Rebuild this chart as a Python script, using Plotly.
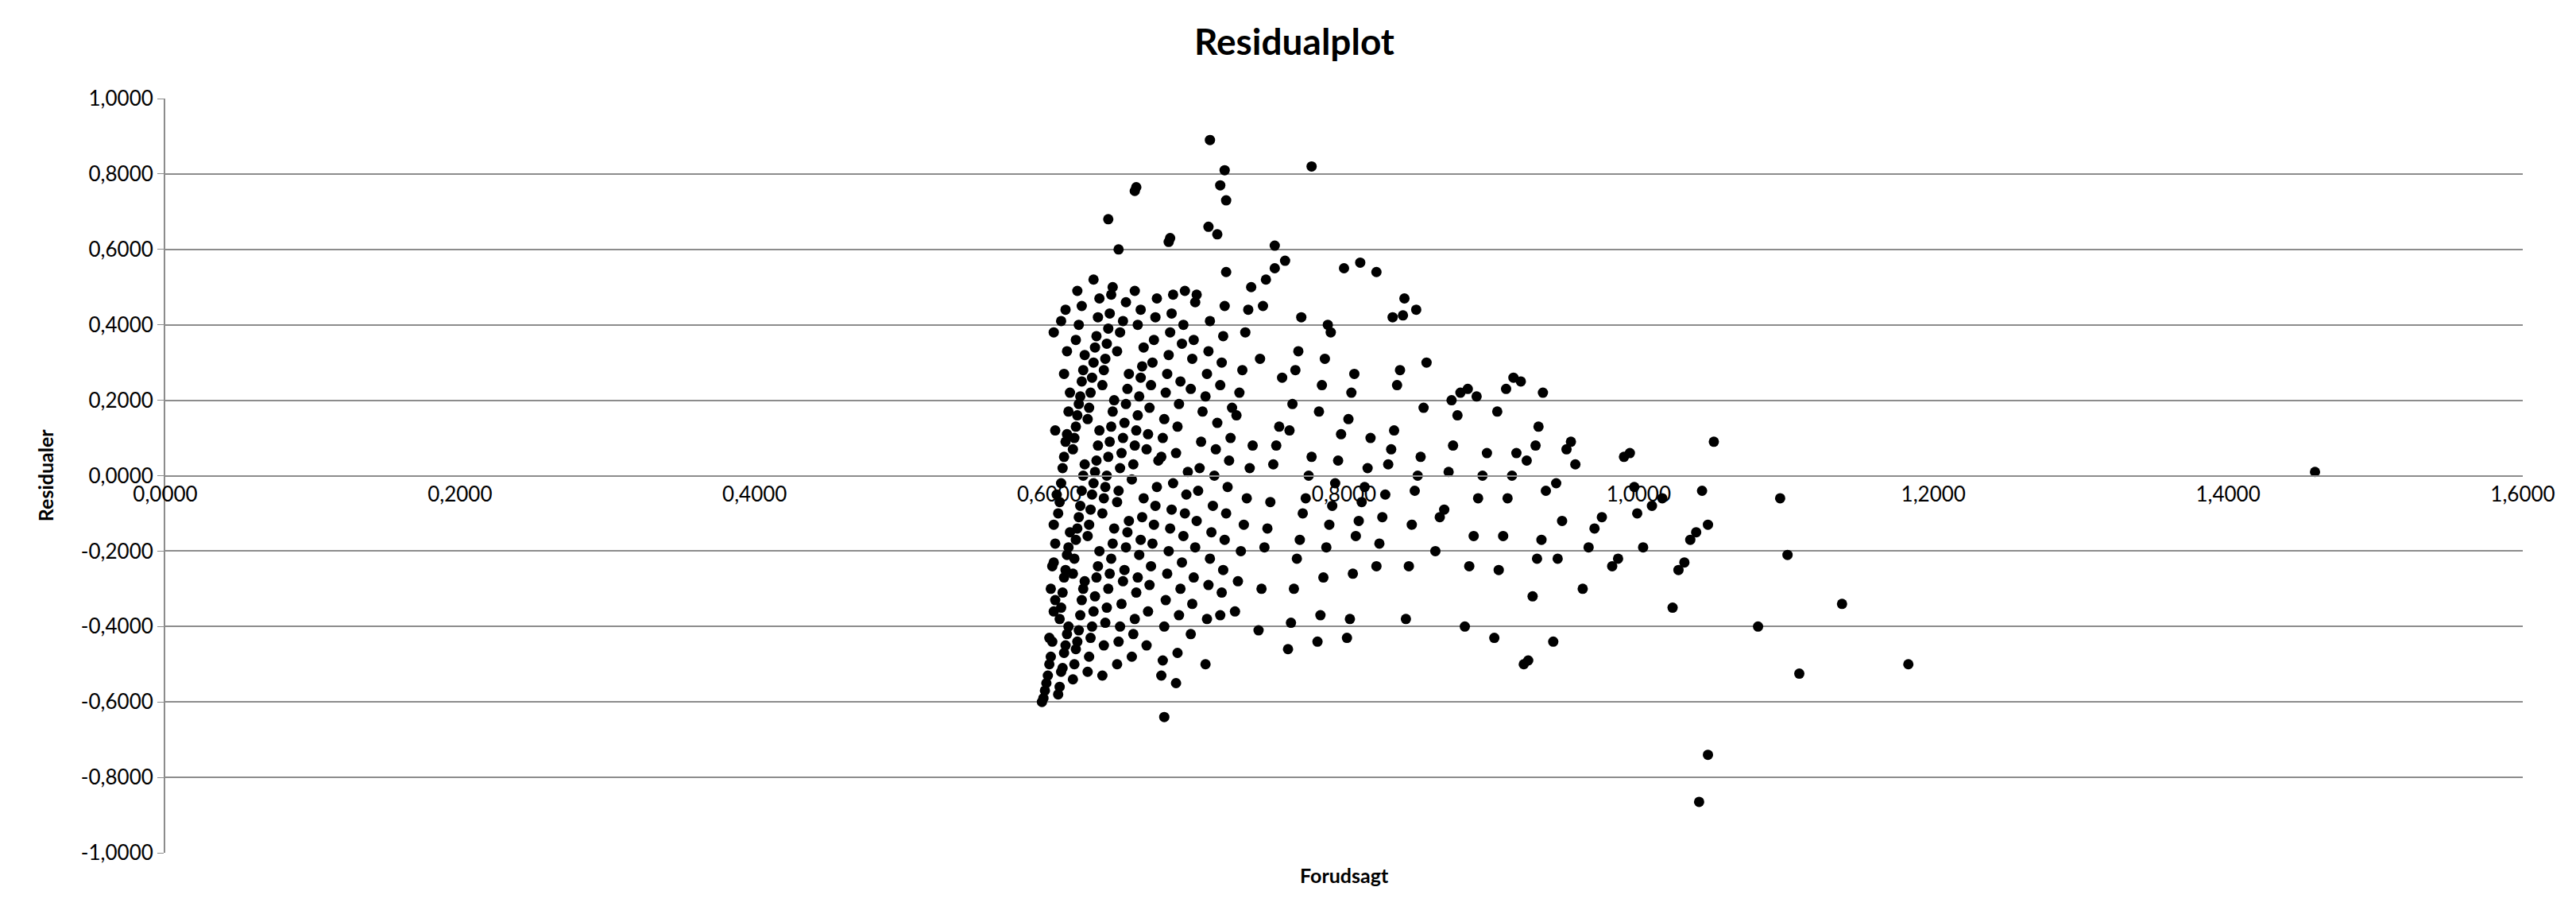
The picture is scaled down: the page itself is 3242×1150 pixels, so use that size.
import plotly.graph_objects as go

# Predicted (Forudsagt) and residual values, column by column
pred = [
 0.595,0.596,0.597,0.598,0.599,0.600,0.601,0.602,0.600,0.603,0.604,0.601,0.602,0.603,0.604,0.603,0.605,0.604,0.603,
 0.606,0.607,0.608,0.609,0.610,0.611,0.612,0.613,0.607,0.608,0.609,0.610,0.611,0.612,0.613,0.614,0.606,0.607,0.608,0.609,0.610,0.611,0.612,0.613,0.614,0.610,0.612,0.608,0.611,
 0.616,0.617,0.618,0.619,0.620,0.621,0.622,0.623,0.624,0.616,0.617,0.618,0.619,0.620,0.621,0.622,0.623,0.624,0.616,0.617,0.618,0.619,0.620,0.621,0.622,0.623,0.624,0.618,0.620,0.622,0.619,
 0.626,0.627,0.628,0.629,0.630,0.631,0.632,0.633,0.634,0.626,0.627,0.628,0.629,0.630,0.631,0.632,0.633,0.634,0.626,0.627,0.628,0.629,0.630,0.631,0.632,0.633,0.634,0.630,
 0.636,0.637,0.638,0.639,0.640,0.641,0.642,0.643,0.644,0.636,0.637,0.638,0.639,0.640,0.641,0.642,0.643,0.644,0.636,0.637,0.638,0.639,0.640,0.641,0.642,0.643,0.640,
 0.646,0.647,0.648,0.649,0.650,0.651,0.652,0.653,0.654,0.646,0.647,0.648,0.649,0.650,0.651,0.652,0.653,0.654,0.646,0.648,0.650,0.652,0.647,
 0.656,0.657,0.658,0.659,0.660,0.661,0.662,0.663,0.664,0.656,0.657,0.658,0.659,0.660,0.661,0.662,0.663,0.664,0.660,0.662,0.658,0.658,0.659,
 0.666,0.667,0.668,0.669,0.670,0.671,0.672,0.673,0.674,0.666,0.667,0.668,0.669,0.670,0.671,0.672,0.673,
 0.678,0.676,0.677,0.678,0.679,0.680,0.681,0.682,0.683,0.684,0.676,0.677,0.678,0.679,0.680,0.681,0.682,0.683,0.684,0.681,0.682,
 0.686,0.687,0.688,0.689,0.690,0.691,0.692,0.693,0.694,0.686,0.687,0.688,0.689,0.690,0.691,0.692,
 0.696,0.697,0.698,0.699,0.700,0.701,0.702,0.703,0.704,0.696,0.697,0.698,0.699,0.700,
 0.706,0.707,0.708,0.709,0.710,0.711,0.712,0.713,0.714,0.706,0.707,0.708,0.709,0.708,0.714,0.709,
 0.716,0.717,0.718,0.719,0.720,0.721,0.722,0.723,0.724,0.716,0.717,0.718,0.719,0.720,0.716,0.720,0.719,
 0.726,0.728,0.730,0.732,0.734,0.736,0.738,0.727,0.729,0.731,0.733,0.735,0.737,
 0.742,0.744,0.746,0.748,0.750,0.752,0.754,0.756,0.758,0.743,0.745,0.747,0.753,0.753,
 0.762,0.764,0.766,0.768,0.770,0.772,0.774,0.776,0.778,0.763,0.765,0.767,0.769,0.771,0.760,0.778,
 0.782,0.784,0.786,0.788,0.790,0.792,0.794,0.796,0.798,0.783,0.785,0.787,0.789,0.791,
 0.802,0.804,0.806,0.808,0.810,0.812,0.814,0.816,0.818,0.803,0.805,0.807,0.800,0.811,
 0.822,0.824,0.826,0.828,0.830,0.832,0.834,0.836,0.838,0.822,0.833,
 0.842,0.844,0.846,0.848,0.850,0.852,0.854,0.856,0.841,0.849,0.840,
 0.862,0.865,0.868,0.871,0.874,0.877,0.873,0.879,
 0.882,0.885,0.888,0.891,0.894,0.897,0.884,0.890,
 0.902,0.905,0.908,0.911,0.914,0.917,0.904,0.910,0.915,
 0.922,0.925,0.928,0.931,0.934,0.937,0.924,0.930,0.935,0.920,0.932,
 0.942,0.945,0.948,0.951,0.954,0.957,0.944,
 0.962,0.966,0.970,0.975,
 0.982,0.986,0.990,0.994,0.997,0.999,
 1.003,1.009,1.016,
 1.023,1.027,1.031,1.035,1.039,1.043,1.047,1.047,1.041,1.051,
 1.081,1.096,1.101,1.109,1.138,1.183,1.459,
]
resid = [
 -0.60,-0.59,-0.57,-0.55,-0.53,-0.50,-0.48,-0.44,-0.43,-0.36,-0.33,-0.30,-0.24,-0.23,-0.18,-0.13,-0.05,0.12,0.38,
 -0.58,-0.56,-0.52,-0.51,-0.47,-0.45,-0.42,-0.40,-0.38,-0.35,-0.31,-0.27,-0.25,-0.21,-0.19,-0.15,-0.10,-0.07,-0.02,0.02,0.05,0.09,0.11,0.17,0.22,0.27,0.33,0.41,0.44,
 -0.54,-0.50,-0.46,-0.44,-0.41,-0.37,-0.33,-0.30,-0.28,-0.26,-0.22,-0.17,-0.14,-0.11,-0.08,-0.04,0.00,0.03,0.07,0.10,0.13,0.16,0.19,0.21,0.25,0.28,0.32,0.36,0.40,0.45,0.49,
 -0.52,-0.48,-0.43,-0.40,-0.36,-0.32,-0.27,-0.24,-0.20,-0.16,-0.13,-0.09,-0.05,-0.02,0.01,0.04,0.08,0.12,0.15,0.18,0.22,0.26,0.30,0.34,0.37,0.42,0.47,0.52,
 -0.53,-0.45,-0.39,-0.35,-0.30,-0.26,-0.22,-0.18,-0.14,-0.10,-0.06,-0.03,0.00,0.05,0.09,0.13,0.17,0.20,0.24,0.28,0.31,0.35,0.39,0.43,0.48,0.50,0.68,
 -0.50,-0.44,-0.40,-0.34,-0.28,-0.25,-0.19,-0.15,-0.12,-0.07,-0.04,0.02,0.06,0.10,0.14,0.19,0.23,0.27,0.33,0.38,0.41,0.46,0.60,
 -0.48,-0.42,-0.38,-0.31,-0.27,-0.21,-0.17,-0.11,-0.06,-0.01,0.03,0.08,0.12,0.16,0.21,0.26,0.29,0.34,0.40,0.44,0.49,0.755,0.765,
 -0.45,-0.36,-0.29,-0.24,-0.18,-0.13,-0.08,-0.03,0.04,0.07,0.11,0.18,0.24,0.30,0.36,0.42,0.47,
 -0.64,-0.53,-0.49,-0.40,-0.33,-0.26,-0.20,-0.14,-0.09,-0.02,0.05,0.10,0.15,0.22,0.27,0.32,0.38,0.43,0.48,0.62,0.63,
 -0.55,-0.47,-0.37,-0.30,-0.23,-0.16,-0.10,-0.05,0.01,0.06,0.13,0.19,0.25,0.35,0.40,0.49,
 -0.42,-0.34,-0.27,-0.19,-0.12,-0.04,0.02,0.09,0.17,0.23,0.31,0.36,0.46,0.48,
 -0.50,-0.38,-0.29,-0.22,-0.15,-0.08,0.00,0.07,0.14,0.21,0.27,0.33,0.41,0.66,0.64,0.89,
 -0.37,-0.31,-0.25,-0.17,-0.10,-0.03,0.04,0.10,0.18,0.24,0.30,0.37,0.45,0.54,0.77,0.73,0.81,
 -0.36,-0.28,-0.20,-0.13,-0.06,0.02,0.08,0.16,0.22,0.28,0.38,0.44,0.50,
 -0.41,-0.30,-0.19,-0.14,-0.07,0.03,0.08,0.13,0.26,0.31,0.45,0.52,0.55,0.61,
 -0.46,-0.39,-0.30,-0.22,-0.17,-0.10,-0.06,0.00,0.05,0.12,0.19,0.28,0.33,0.42,0.57,0.82,
 -0.44,-0.37,-0.27,-0.19,-0.13,-0.08,-0.02,0.04,0.11,0.17,0.24,0.31,0.40,0.38,
 -0.43,-0.38,-0.26,-0.16,-0.12,-0.07,-0.03,0.02,0.10,0.15,0.22,0.27,0.55,0.565,
 -0.24,-0.18,-0.11,-0.05,0.03,0.07,0.12,0.24,0.28,0.54,0.42,
 -0.38,-0.24,-0.13,-0.04,0.00,0.05,0.18,0.30,0.47,0.44,0.425,
 -0.20,-0.11,-0.09,0.01,0.08,0.16,0.20,0.22,
 -0.40,-0.24,-0.16,-0.06,0.00,0.06,0.23,0.21,
 -0.43,-0.25,-0.16,-0.06,0.00,0.06,0.17,0.23,0.26,
 -0.50,-0.49,-0.32,-0.22,-0.17,-0.04,0.04,0.08,0.22,0.25,0.13,
 -0.44,-0.22,-0.12,0.07,0.09,0.03,-0.02,
 -0.30,-0.19,-0.14,-0.11,
 -0.24,-0.22,0.05,0.06,-0.03,-0.10,
 -0.19,-0.08,-0.06,
 -0.35,-0.25,-0.23,-0.17,-0.15,-0.04,-0.13,-0.74,-0.865,0.09,
 -0.40,-0.06,-0.21,-0.525,-0.34,-0.50,0.01,
]

x_ticks = [0.0,0.2,0.4,0.6,0.8,1.0,1.2,1.4,1.6]
y_ticks = [-1.0,-0.8,-0.6,-0.4,-0.2,0.0,0.2,0.4,0.6,0.8,1.0]
fmt = lambda v: f"{v:.4f}".replace(".", ",")

fig = go.Figure(go.Scatter(
    x=pred, y=resid, mode="markers",
    marker=dict(color="black", size=13, line=dict(width=0)),
    showlegend=False, hoverinfo="skip"))

FONT = "Lato"
fig.update_layout(
    width=3242, height=1150,
    paper_bgcolor="white", plot_bgcolor="white",
    margin=dict(l=200, r=75, t=116, b=85),
    font=dict(family=FONT, color="black", size=26),
    title=dict(text="<b>Residualplot</b>", x=0.5, xanchor="center", y=0.975, yanchor="top",
               font=dict(size=46, family=FONT, color="black")),
    xaxis=dict(range=[0, 1.6], tickvals=x_ticks, ticktext=[fmt(v) for v in x_ticks],
               anchor="free", position=0.5, showgrid=False, zeroline=False,
               showline=True, linecolor="#8c8c8c", linewidth=2,
               ticks="", tickfont=dict(size=26, family=FONT)),
    yaxis=dict(range=[-1.0, 1.0], tickvals=y_ticks, ticktext=[fmt(v) for v in y_ticks],
               showgrid=True, gridcolor="#8c8c8c", gridwidth=2, zeroline=False,
               showline=True, linecolor="#8c8c8c", linewidth=2,
               ticks="outside", ticklen=8, tickcolor="#8c8c8c",
               tickfont=dict(size=26, family=FONT)),
    annotations=[
        dict(text="<b>Forudsagt</b>", xref="paper", yref="paper", x=0.5, y=-0.012,
             xanchor="center", yanchor="top", showarrow=False, font=dict(size=25, family=FONT)),
        dict(text="<b>Residualer</b>", xref="paper", yref="paper", x=-0.051, y=0.5,
             xanchor="center", yanchor="middle", textangle=-90, showarrow=False,
             font=dict(size=25, family=FONT)),
    ],
)
fig.write_html("out.html")
